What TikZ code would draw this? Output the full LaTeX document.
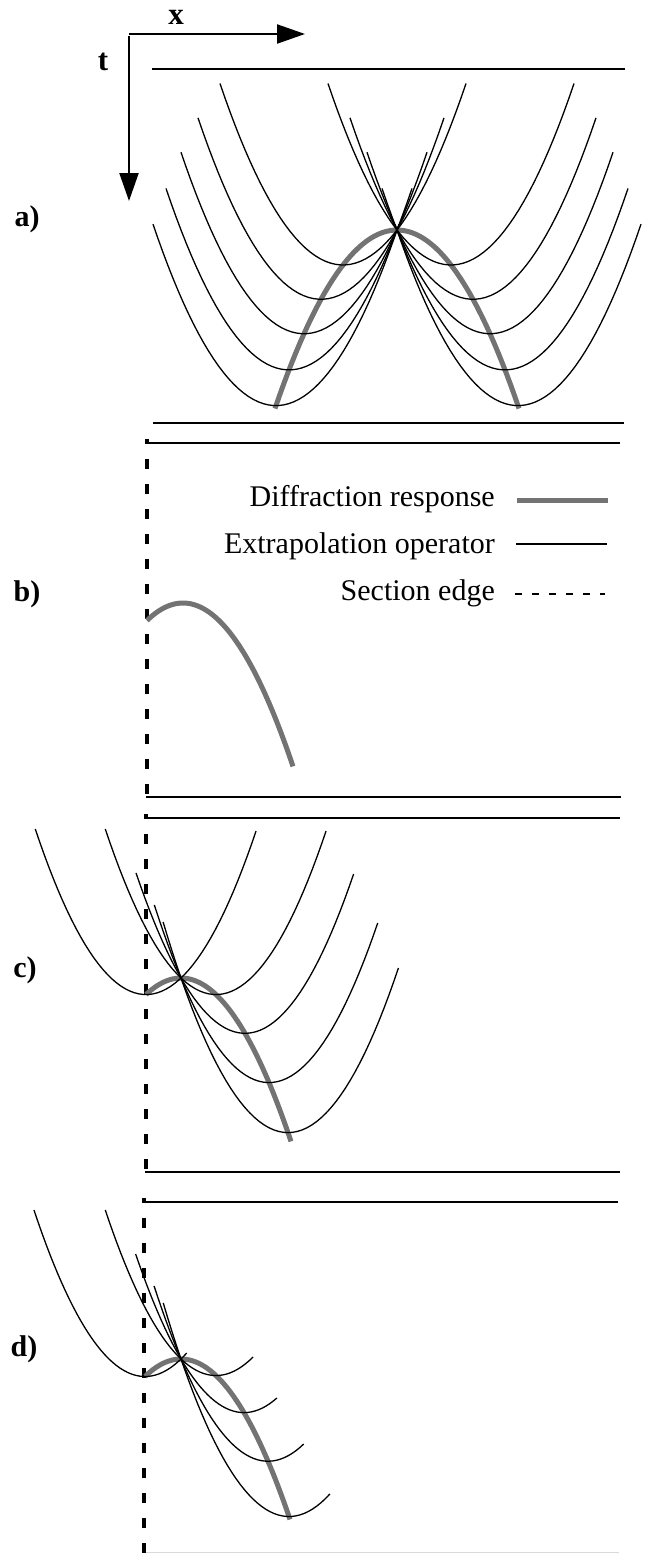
\documentclass[tikz,border=0pt]{standalone}
\usepackage{fontspec}
\setmainfont{Liberation Serif}
\usetikzlibrary{arrows.meta}

\tikzset{
  oper/.style={line width=1.3pt, black},
  diffr/.style={line width=5pt, color=black!55},
  edge/.style={line width=3.5pt, dash pattern=on 10pt off 15pt, dash phase=5pt},
  frame/.style={line width=1.7pt},
  axis/.style={line width=2.2pt, -{Triangle[length=28pt,width=19pt]}},
  lab/.style={font=\fontsize{31}{36}\selectfont\bfseries, inner sep=0pt},
  panlab/.style={font=\fontsize{30}{36}\selectfont\bfseries, inner sep=0pt},
  leg/.style={font=\fontsize{30}{36}\selectfont, anchor=base east, inner sep=0pt},
}

\begin{document}
\begin{tikzpicture}[x=1pt, y=-1pt]
\useasboundingbox (0,0) rectangle (648,1553);

% axes
\coordinate (orig) at (129,34);
\coordinate (xend) at (305,34);
\coordinate (tbeg) at (129,36);
\coordinate (tend) at (129,201);
\draw[axis] (orig) -- (xend);
\draw[axis] (tbeg) -- (tend);
\node[lab] (xlab) at (176,17) {x};
\node[lab] (tlab) at (103,62) {t};

% panel labels
\node[panlab] (la) at (27,219) {a)};
\node[panlab] (lb) at (27,594) {b)};
\node[panlab] (lc) at (25,970) {c)};
\node[panlab] (ld) at (24,1349) {d)};

% section frames
\draw[frame] (152,69) -- (625,69);
\draw[frame] (153,423) -- (624,423);
\draw[frame] (147,443) -- (620,443);
\draw[frame] (146,797) -- (621,797);
\draw[frame] (146,818) -- (620,818);
\draw[frame] (145,1172) -- (620,1172);
\draw[frame] (144,1202) -- (618,1202);
\draw[line width=1pt, black!15] (142,1552) -- (619,1552);

% section edges
\draw[edge] (147,439) -- (147,797);
\draw[edge] (146,814) -- (146,1172);
\draw[edge] (144,1198) -- (144,1553);

% a) full diffraction and operators
\draw[diffr] plot[variable=\u, domain=-122:122, samples=60] ({397+\u},{230+0.012*\u*\u});
\foreach \d in {-121,-108,-93,-76,-54,54,76,93,108,121}{
  \pgfmathsetmacro\xm{397+\d}
  \pgfmathsetmacro\ym{230+0.012*\d*\d}
  \draw[oper] plot[variable=\u, domain=-123:123, samples=50] ({\xm+\u},{\ym-0.012*\u*\u});
}

% b) truncated diffraction
\draw[diffr] plot[variable=\u, domain=-36:110, samples=50] ({183+\u},{603+0.0135*\u*\u});

% c) operators near the edge
\draw[diffr] plot[variable=\u, domain=-35:110, samples=50] ({181+\u},{978+0.0135*\u*\u});
\foreach \d/\yl/\yr in {-35/829/831, 35/829/831, 64/873/874, 88/905/923, 107/922/968}{
  \pgfmathsetmacro\xm{181+\d}
  \pgfmathsetmacro\ym{978+0.0135*\d*\d}
  \pgfmathsetmacro\wl{sqrt((\ym-\yl)/0.0135)}
  \pgfmathsetmacro\wr{sqrt((\ym-\yr)/0.0135)}
  \draw[oper] plot[variable=\u, domain=-\wl:\wr, samples=50] ({\xm+\u},{\ym-0.0135*\u*\u});
}

% d) operators cut on the right
\draw[diffr] plot[variable=\u, domain=-36:109, samples=50] ({181+\u},{1359+0.0135*\u*\u});
\foreach \d/\yl/\yr in {-36/1210/1353, 35/1210/1357, 63/1254/1398, 87/1286/1444, 108/1303/1494}{
  \pgfmathsetmacro\xm{181+\d}
  \pgfmathsetmacro\ym{1359+0.0135*\d*\d}
  \pgfmathsetmacro\wl{sqrt((\ym-\yl)/0.0135)}
  \pgfmathsetmacro\wr{sqrt((\ym-\yr)/0.0135)}
  \draw[oper] plot[variable=\u, domain=-\wl:\wr, samples=40] ({\xm+\u},{\ym-0.0135*\u*\u});
}

% legend
\node[leg] (ldiff) at (495,506) {Diffraction response};
\node[leg] (loper) at (495,553) {Extrapolation operator};
\node[leg] (ledge) at (495,600) {Section edge};
\draw[diffr] (517,500) -- (608,500);
\draw[oper] (516,544) -- (607,544);
\draw[line width=2.5pt, dash pattern=on 7pt off 10pt] (515,594) -- (605,594);
\end{tikzpicture}
\end{document}
